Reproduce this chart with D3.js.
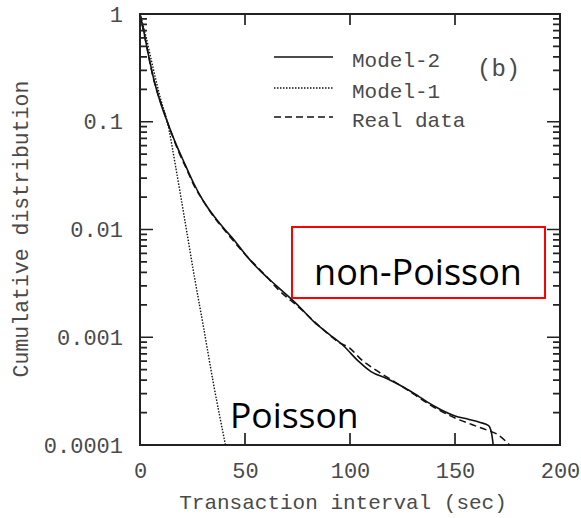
<!DOCTYPE html>
<html>
<head>
<meta charset="utf-8">
<script src="https://cdn.jsdelivr.net/npm/d3@7"></script>
<style>
  body { margin: 0; background: #fff; }
  .mono { font-family: "Liberation Mono", "DejaVu Sans Mono", monospace; fill: #4a4a4a; }
</style>
</head>
<body>
<div id="chart"></div>
<script>
// values
var xTicks = [0, 50, 100, 150, 200];
var yTicks = [1, 0.1, 0.01, 0.001, 0.0001];
var yTickLabels = ["1", "0.1", "0.01", "0.001", "0.0001"];

var model2X = [0, 2, 4, 7, 10, 13, 17, 21.5, 25.5, 30, 35, 40, 45, 51, 58, 65, 75, 83, 90, 97, 104, 110, 118, 126, 133, 140, 150, 156, 162, 166, 167.5, 168.2];
var model2Y = [1, 0.66, 0.42, 0.23, 0.145, 0.1, 0.063, 0.04, 0.027, 0.0186, 0.0135, 0.0102, 0.0079, 0.0056, 0.004, 0.003, 0.002, 0.00138, 0.00107, 0.00083, 0.0006, 0.00048, 0.00041, 0.00034, 0.00028, 0.00023, 0.000186, 0.000174, 0.000162, 0.000151, 0.000126, 0.0001];

var model1X = [0, 3, 6, 10, 13, 17, 21.5, 26, 30, 35, 40.7];
var model1Y = [1, 0.6, 0.33, 0.158, 0.1, 0.038, 0.0117, 0.00355, 0.00132, 0.00037, 0.0001];

var realX = [0, 1, 3, 6, 10, 13, 18, 22, 26, 30, 35, 40, 50, 60, 66, 75, 85, 95, 100, 105, 112, 120, 130, 140, 150, 158, 165, 170, 176];
var realY = [1, 0.8, 0.52, 0.27, 0.148, 0.1, 0.055, 0.037, 0.025, 0.0186, 0.0132, 0.01, 0.0059, 0.0037, 0.00275, 0.00195, 0.00129, 0.00089, 0.00079, 0.00063, 0.0005, 0.0004, 0.0003, 0.000224, 0.000178, 0.000155, 0.000138, 0.000126, 0.0001];

var series = [
  {name: "Model-2", xs: model2X, ys: model2Y, dash: null, w: 1.6},
  {name: "Model-1", xs: model1X, ys: model1Y, dash: "1.5,1.5", w: 1.4},
  {name: "Real data", xs: realX, ys: realY, dash: "7,4", w: 1.5}
];

var W = 581, H = 518;
var plotL = 140, plotR = 560, plotT = 14, plotB = 445;

var svg = d3.select("#chart").append("svg")
    .attr("width", W)
    .attr("height", H);

var x = d3.scaleLinear().domain([0, 200]).range([plotL, plotR]);
var y = d3.scaleLog().domain([0.0001, 1]).range([plotB, plotT]);

// minor log ticks
var minor = [];
yTicks.slice(1).forEach(function(d) {
  for (var k = 2; k <= 9; k++) minor.push(d * k);
});

// frame
svg.append("path")
  .attr("d", "M" + plotL + "," + plotT + "H" + plotR + "V" + plotB + "H" + plotL + "Z")
  .attr("fill", "none").attr("stroke", "#222").attr("stroke-width", 2);

// tick labels via axes
var gy = svg.append("g").attr("transform", "translate(" + plotL + ",0)")
  .call(d3.axisLeft(y).tickValues(yTicks).tickSize(0).tickPadding(17)
    .tickFormat(function(d, i) { return yTickLabels[i]; }));
gy.selectAll("text").attr("class", "mono").style("font-size", "22px").attr("font-family", null);

var gx = svg.append("g").attr("transform", "translate(0," + plotB + ")")
  .call(d3.axisBottom(x).tickValues(xTicks).tickSize(0).tickFormat(d3.format("d")));
gx.selectAll("text").attr("class", "mono").style("font-size", "22px")
  .attr("font-family", null).attr("y", 33).attr("dy", null);

svg.selectAll(".domain").remove();
svg.selectAll(".tick line").remove();

// curves
var line = d3.line()
  .x(function(d) { return x(d[0]); })
  .y(function(d) { return y(d[1]); })
  .curve(d3.curveMonotoneX);

series.forEach(function(s) {
  var pts = s.xs.map(function(v, i) { return [v, s.ys[i]]; });
  svg.append("path")
    .datum(pts)
    .attr("d", line)
    .attr("fill", "none")
    .attr("stroke", "#111")
    .attr("stroke-width", s.w)
    .attr("stroke-dasharray", s.dash);
});

// inward ticks on all four sides, one path per side
function tickPath(vals, len, side) {
  var d = vals.map(function(v) {
    if (side === "l") return "M" + plotL + "," + y(v) + "h" + len;
    if (side === "r") return "M" + plotR + "," + y(v) + "h" + (-len);
    if (side === "b") return "M" + x(v) + "," + plotB + "v" + (-len);
    return "M" + x(v) + "," + plotT + "v" + len;
  }).join("");
  svg.append("path")
    .attr("d", d)
    .attr("fill", "none")
    .attr("stroke", "#222")
    .attr("stroke-width", 1.7);
}
tickPath(yTicks, 13, "l");
tickPath(minor, 7, "l");
tickPath(yTicks, 13, "r");
tickPath(minor, 7, "r");
tickPath(xTicks, 12, "b");
tickPath(xTicks, 11, "t");

// legend
var legendY = [57, 88, 117];
series.forEach(function(s, i) {
  svg.append("line")
    .attr("x1", 274).attr("x2", 333)
    .attr("y1", legendY[i]).attr("y2", legendY[i])
    .attr("stroke", "#111")
    .attr("stroke-width", s.w)
    .attr("stroke-dasharray", s.dash);
  svg.append("text")
    .attr("class", "mono")
    .attr("x", 352).attr("y", legendY[i] + 10)
    .style("font-size", "21px")
    .text(s.name);
});

svg.append("text")
  .attr("class", "mono")
  .attr("x", 477).attr("y", 76)
  .style("font-size", "24px")
  .text("(b)");

// axis titles
svg.append("text")
  .attr("class", "mono")
  .attr("x", (plotL + plotR) / 2 - 7).attr("y", 509)
  .attr("text-anchor", "middle")
  .style("font-size", "21px")
  .text("Transaction interval (sec)");

svg.append("text")
  .attr("class", "mono")
  .attr("transform", "translate(28," + 229 + ") rotate(-90)")
  .attr("text-anchor", "middle")
  .style("font-size", "21.5px")
  .text("Cumulative distribution");

// annotations
svg.append("rect")
  .attr("x", 292).attr("y", 227)
  .attr("width", 253).attr("height", 71)
  .attr("fill", "#fff")
  .attr("stroke", "#f00").attr("stroke-width", 2);

svg.append("text")
  .attr("x", 418).attr("y", 285)
  .attr("text-anchor", "middle")
  .style("font-family", "'Open Sans', 'Noto Sans', sans-serif")
  .style("font-size", "36px")
  .attr("fill", "#000")
  .text("non-Poisson");

svg.append("text")
  .attr("x", 230).attr("y", 428)
  .style("font-family", "'Open Sans', 'Noto Sans', sans-serif")
  .style("font-size", "35.5px")
  .attr("fill", "#000")
  .text("Poisson");
</script>
</body>
</html>
